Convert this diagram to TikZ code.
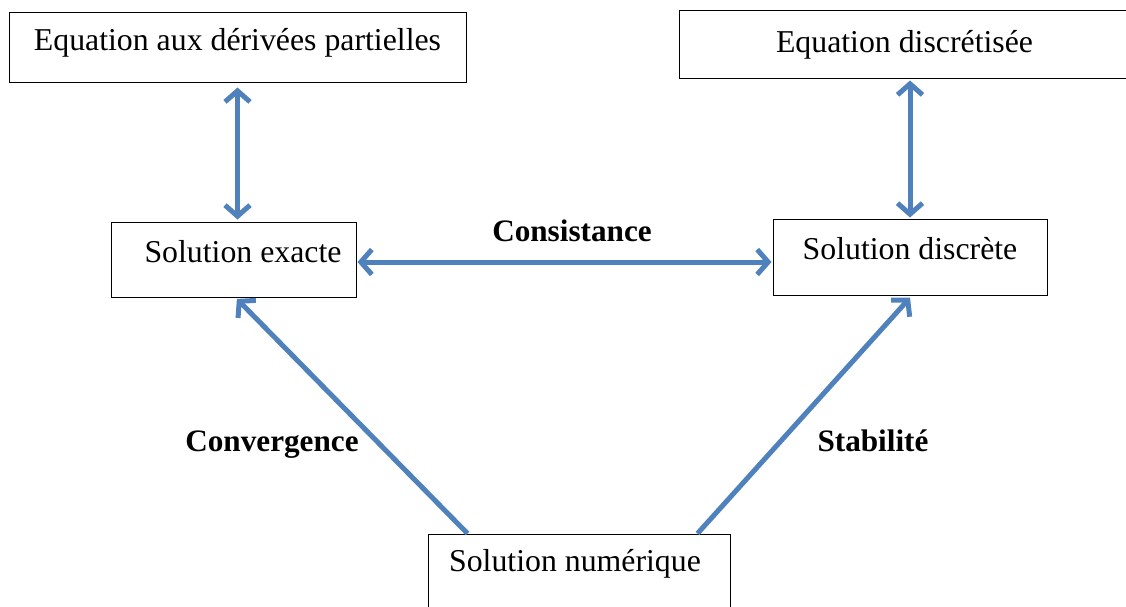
\documentclass[tikz,border=0pt]{standalone}
\usepackage{fontspec}
\setmainfont{Liberation Serif}
\usetikzlibrary{arrows.meta,positioning}

\definecolor{linkblue}{HTML}{4F81BD}

\begin{document}
\begin{tikzpicture}[
    x=1pt, y=-1pt,
    box/.style={draw, rectangle, line width=1pt, inner sep=0pt, text centered,
        font=\fontsize{31.8}{38}\selectfont},
    lbl/.style={font=\fontsize{31.2}{38}\selectfont\bfseries, anchor=base},
    link/.style={draw=linkblue, line width=5pt,
        >={Straight Barb[length=11pt,width=25pt]}}
]
\useasboundingbox[fill=white] (0,0) rectangle (1126,606);

\node[box, minimum width=457pt, text height=38pt, text depth=32pt] (EDP) at (237.5,47) {Equation aux dérivées partielles};
\node[box, minimum width=451pt, text height=42pt, text depth=26pt] (EqDisc) at (904.5,44) {Equation discrétisée};
\node[box, minimum width=245pt, text height=40pt, text depth=35pt] (Exact) at (233.5,259.5) {\hspace*{19pt}Solution exacte};
\node[box, minimum width=274pt, text height=40pt, text depth=36pt] (Discrete) at (910,257) {Solution discrète};
\node[box, minimum width=302pt, text height=37pt, text depth=41pt] (Numeric) at (579,573) {\hspace*{-8pt}Solution numérique};

\node[lbl] (Cons) at (572,241) {Consistance};
\node[lbl] (Conv) at (272,451) {Convergence};
\node[lbl] (Stab) at (873,451) {Stabilité};

\draw[link, <->, shorten <=5pt, shorten >=2pt] (EDP.south) -- (EDP.south |- Exact.north);
\draw[link, <->, shorten <=2pt, shorten >=1pt] (Discrete.north |- EqDisc.south) -- (Discrete.north);
\draw[link, <->, shorten <=1pt, shorten >=1pt] ([yshift=-2.5pt]Exact.east) -- ([yshift=-2.5pt]Exact.east -| Discrete.west);
\draw[link, ->, shorten >=2pt] ([xshift=40pt]Numeric.north west) -- ([xshift=2pt]Exact.south);
\draw[link, ->, shorten >=3pt] ([xshift=-33pt]Numeric.north east) -- ([xshift=2pt]Discrete.south);
\end{tikzpicture}
\end{document}
